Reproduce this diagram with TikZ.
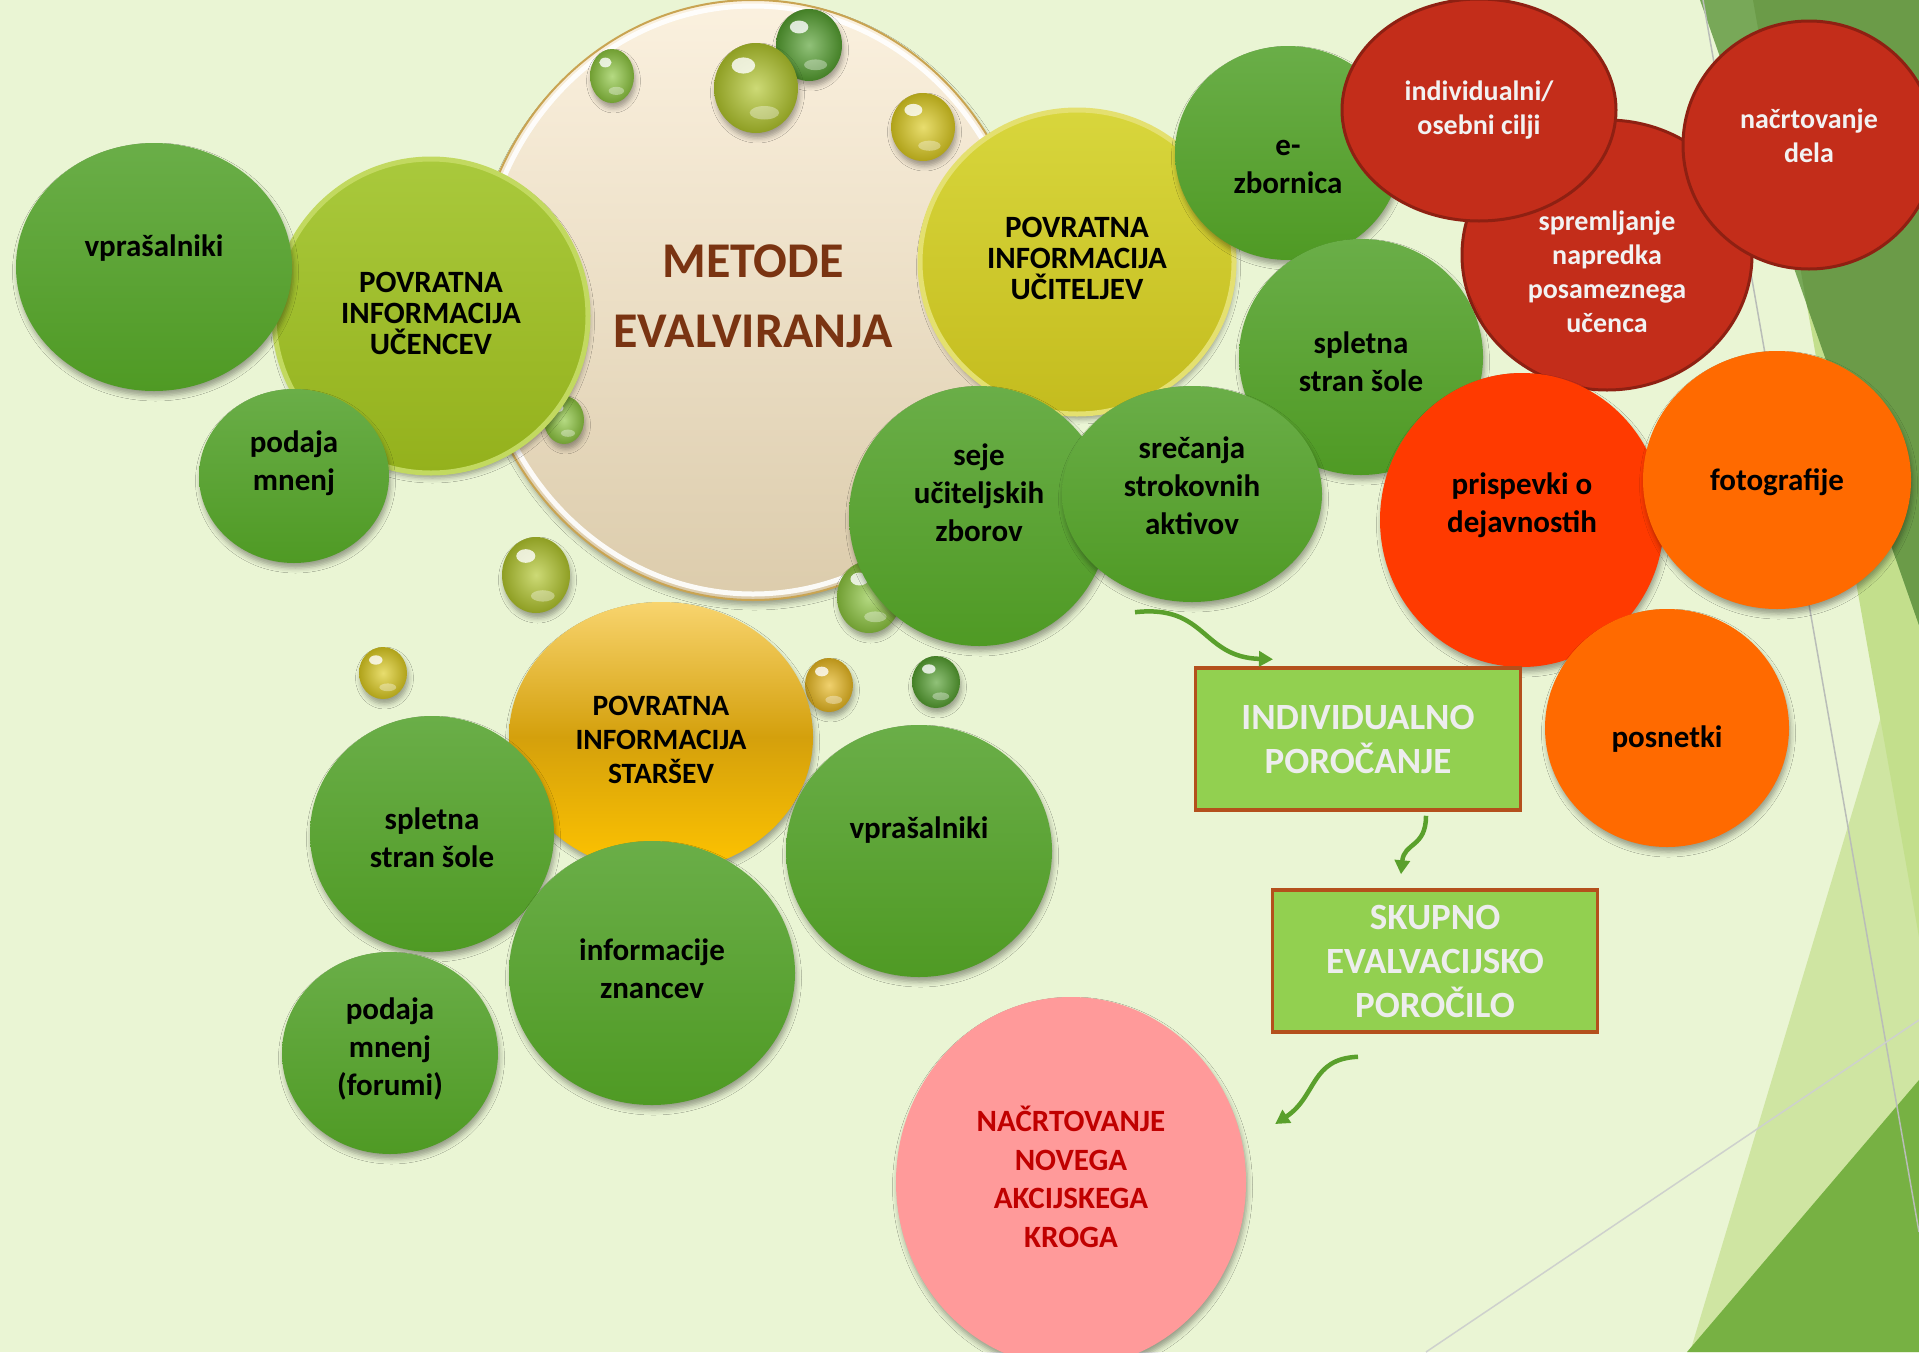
\documentclass[tikz,border=0pt]{standalone}
\usepackage{fontspec}
\setmainfont{Carlito}
\usepackage{tikz}
\usetikzlibrary{positioning,arrows.meta,shapes.geometric,shadows.blur}

\definecolor{bgpale}{HTML}{EAF5D4}
\definecolor{bgdark}{HTML}{6B9B48}
\definecolor{bgmid}{HTML}{78A858}
\definecolor{bglight}{HTML}{CFE5A2}
\definecolor{bgbright}{HTML}{C3DF8C}
\definecolor{bgbot}{HTML}{77B143}
\definecolor{bgline}{HTML}{B9BDB8}
\definecolor{grntop}{HTML}{6AAE48}
\definecolor{grnbot}{HTML}{4F9A24}
\definecolor{ucentop}{HTML}{A9C93C}
\definecolor{ucenbot}{HTML}{94B11C}
\definecolor{ucenrim}{HTML}{C2D960}
\definecolor{ucittop}{HTML}{D8D63C}
\definecolor{ucitbot}{HTML}{C4BC1E}
\definecolor{ucitrim}{HTML}{E4E070}
\definecolor{creamtop}{HTML}{FBF1DF}
\definecolor{creambot}{HTML}{DCCCAC}
\definecolor{creamline}{HTML}{C9A452}
\definecolor{titlebrown}{HTML}{7A3412}
\definecolor{redfill}{HTML}{C32D1A}
\definecolor{redline}{HTML}{8E2012}
\definecolor{wtext}{HTML}{F2F2F2}
\definecolor{prispfill}{HTML}{FF3A00}
\definecolor{orngfill}{HTML}{FF6A00}
\definecolor{starstop}{HTML}{F8D46E}
\definecolor{starsmid}{HTML}{D4A00C}
\definecolor{starsbot}{HTML}{FFC400}
\definecolor{boxfill}{HTML}{92D050}
\definecolor{boxline}{HTML}{B4501C}
\definecolor{boxtxt}{HTML}{EDEDED}
\definecolor{pinkfill}{HTML}{FF9A9A}
\definecolor{pinktxt}{HTML}{C00000}
\definecolor{arrgreen}{HTML}{5AA02C}
\definecolor{dropgrn}{HTML}{55A030}
\definecolor{droplime}{HTML}{8DC63F}
\definecolor{dropolive}{HTML}{B2C62C}
\definecolor{dropyel}{HTML}{DCCB20}
\definecolor{dropgold}{HTML}{E8B820}

\newcommand{\glossdrop}[5]{%
	\shade[shd,inner color=#5!65!white,outer color=#5!80!black] (#1,#2) ellipse [x radius=#3,y radius=#4];
	\fill[white,opacity=.8] (#1-#3*0.3,#2-#4*0.5) ellipse [x radius=#3*0.28,y radius=#4*0.18];
	\fill[white,opacity=.35] (#1+#3*0.2,#2+#4*0.55) ellipse [x radius=#3*0.35,y radius=#4*0.15];}

\begin{document}
\begin{tikzpicture}[x=1pt,y=-1pt,
		bub/.style 2 args={ellipse,minimum width=#1pt,minimum height=#2pt,inner sep=0pt},
		shd/.style={blur shadow={shadow xshift=1.5pt,shadow yshift=-5pt,shadow blur radius=5pt,shadow opacity=35}},
		grn/.style={shd,top color=grntop,bottom color=grnbot},
		redc/.style={fill=redfill,draw=redline,line width=3pt},
		orng/.style={shd,fill=orngfill},
		txt/.style={font=\bfseries\fontsize{31}{38}\selectfont,align=center},
		wtxt/.style={font=\bfseries\fontsize{28}{34}\selectfont,align=center,text=wtext},
		capt/.style={font=\bfseries\fontsize{31}{31}\selectfont,align=center},
		repbox/.style={rectangle,fill=boxfill,draw=boxline,line width=3.5pt,minimum width=325pt,minimum height=142pt,
			font=\bfseries\fontsize{37}{44}\selectfont,align=center,text=boxtxt},
		flow/.style={draw=arrgreen,line width=4.5pt,-{Triangle[length=14pt,width=15pt]}}]
	\clip (0,0) rectangle (1919,1352);
	% background
	\fill[bgpale] (0,0) rectangle (1919,1352);
	\fill[bglight] (1690,1352) -- (1919,590) -- (1919,1352) -- cycle;
	\fill[bgbright] (1807,306) -- (1919,625) -- (1919,937) -- cycle;
	\fill[bgmid] (1700,0) -- (1919,0) -- (1919,625) -- cycle;
	\fill[bgdark] (1753,0) -- (1919,0) -- (1919,625) -- (1807,306) -- cycle;
	\fill[bgbot] (1687,1352) -- (1919,1080) -- (1919,1352) -- cycle;
	\draw[bgline,line width=1.5pt] (1703,0) -- (1919,1232);
	\draw[bgline!70,line width=1.5pt] (1426,1352) -- (1919,1020);

	\node[bub={560}{600},shd,top color=creamtop,bottom color=creambot,draw=creamline,line width=2pt,
		label={[font=\bfseries\fontsize{50}{70}\selectfont,align=center,text=titlebrown,yshift=4pt]center:{METODE\\EVALVIRANJA}}] (metode) at (753,300) {};
	\draw[white,line width=5pt,opacity=.9] (metode.center) ellipse [x radius=274,y radius=294];

	\glossdrop{809}{45}{33}{36}{dropgrn}
	\glossdrop{756}{88}{42}{45}{dropolive}
	\glossdrop{612}{76}{22}{27}{droplime}
	\glossdrop{923}{127}{32}{34}{dropyel}
	\glossdrop{564}{420}{20}{24}{droplime}
	\glossdrop{869}{597}{32}{36}{droplime}

	\node[bub={314}{314},shd,top color=ucentop,bottom color=ucenbot,draw=ucenrim,line width=5pt,
		label={[capt,yshift=3pt]center:{POVRATNA\\INFORMACIJA\\UČENCEV}}] (ucen) at (431,316) {};
	\node[bub={276}{248},grn,label={[txt,yshift=19pt]center:vprašalniki}] (vpr1) at (154,267) {};
	\node[bub={190}{174},grn,label={[txt,yshift=13pt]center:{podaja\\mnenj}}] (podaja1) at (294,476) {};

	\node[bub={314}{304},shd,top color=ucittop,bottom color=ucitbot,draw=ucitrim,line width=5pt,
		label={[capt,yshift=4pt]center:{POVRATNA\\INFORMACIJA\\UČITELJEV}}] (ucit) at (1077,262) {};
	\node[bub={290}{270},redc,label={[wtxt,yshift=-17pt]center:{spremljanje\\napredka\\posameznega\\učenca}}] (sprem) at (1607,255) {};
	\node[bub={226}{214},grn,label={[txt,yshift=-14pt]center:{e-\\zbornica}}] (ezb) at (1288,153) {};
	\node[bub={274}{222},redc,label={[wtxt,yshift=0pt]center:{individualni/\\osebni cilji}}] (indiv) at (1479,110) {};
	\node[bub={252}{248},redc,label={[wtxt,yshift=9pt]center:{načrtovanje\\dela}}] (nacrt) at (1809,145) {};
	\node[bub={244}{236},grn,label={[txt,yshift=-5pt]center:{spletna\\stran šole}}] (splR) at (1361,357) {};
	\node[bub={260}{260},grn,label={[txt,yshift=23pt]center:{seje\\učiteljskih\\zborov}}] (seje) at (979,516) {};
	\node[bub={260}{216},grn,label={[txt,yshift=8pt]center:{srečanja\\strokovnih\\aktivov}}] (srec) at (1192,494) {};
	\node[bub={284}{294},shd,fill=prispfill,label={[txt,yshift=15pt]center:{prispevki o\\dejavnostih}}] (prisp) at (1522,520) {};
	\node[bub={268}{258},orng,label={[txt,yshift=-2pt]center:fotografije}] (foto) at (1777,480) {};
	\node[bub={244}{238},orng,label={[txt,yshift=-11pt]center:posnetki}] (posn) at (1667,728) {};

	\node[repbox] (indpor) at (1358,739) {INDIVIDUALNO\\POROČANJE};
	\node[repbox] (skupor) at (1435,961) {SKUPNO\\EVALVACIJSKO\\POROČILO};

	\glossdrop{536}{575}{34}{38}{dropolive}
	\glossdrop{383}{673}{24}{26}{dropyel}
	\glossdrop{829}{685}{24}{27}{dropgold}
	\glossdrop{936}{682}{24}{26}{dropgrn}

	\node[bub={304}{270},shd,top color=starstop,bottom color=starsbot,middle color=starsmid,
		label={[font=\bfseries\fontsize{29.5}{34}\selectfont,align=center,yshift=-3pt]center:{POVRATNA\\INFORMACIJA\\STARŠEV}}] (starsev) at (661,737) {};
	\node[bub={244}{236},grn,label={[txt,yshift=-4pt]center:{spletna\\stran šole}}] (splL) at (432,834) {};
	\node[bub={266}{252},grn,label={[txt,yshift=21pt]center:vprašalniki}] (vpr2) at (919,851) {};
	\node[bub={286}{264},grn,label={[txt,yshift=4pt]center:{informacije\\znancev}}] (inform) at (652,973) {};
	\node[bub={216}{202},grn,label={[txt,yshift=4pt]center:{podaja\\mnenj\\(forumi)}}] (podaja2) at (390,1053) {};

	\node[bub={350}{370},shd,fill=pinkfill,
		label={[font=\bfseries\fontsize{31}{38.5}\selectfont,align=center,text=pinktxt,yshift=5pt]center:{NAČRTOVANJE\\NOVEGA\\AKCIJSKEGA\\KROGA}}] (nacrtnov) at (1071,1182) {};

	\coordinate (a1s) at ([shift={(-57,10)}]srec.south);
	\coordinate (a1e) at ([shift={(-85,-7)}]indpor.north);
	\coordinate (a2s) at ([shift={(68,4)}]indpor.south);
	\coordinate (a2e) at ([shift={(-34,-14)}]skupor.north);
	\coordinate (a3s) at ([shift={(-77,23)}]skupor.south);
	\coordinate (a3e) at ([shift={(29,-58)}]nacrtnov.east);
	\draw[flow] (a1s) .. controls +(72,-8) and +(-72,-2) .. (a1e);
	\draw[flow] (a2s) .. controls +(0,32) and +(3,-32) .. (a2e);
	\draw[flow] (a3s) .. controls +(-48,2) and +(42,-28) .. (a3e);
\end{tikzpicture}
\end{document}
